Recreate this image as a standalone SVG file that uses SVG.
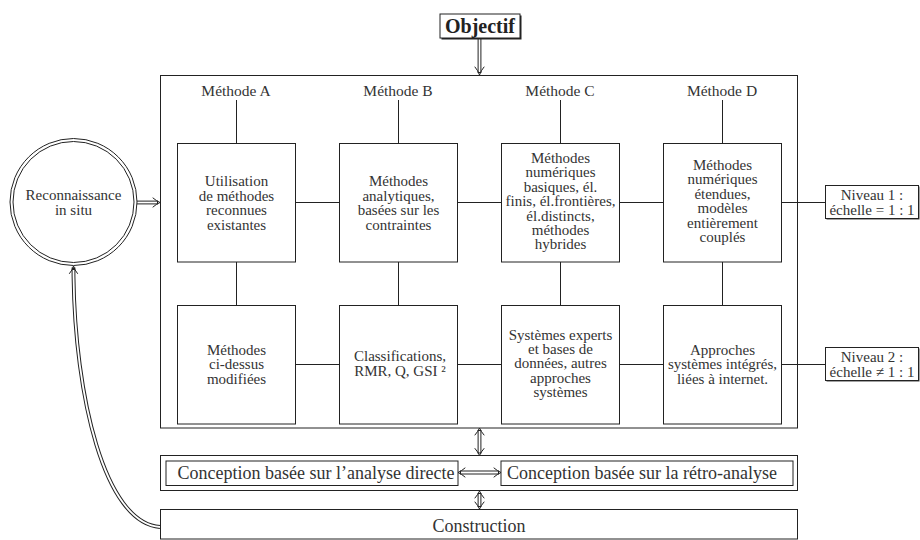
<svg xmlns="http://www.w3.org/2000/svg" width="920" height="540" viewBox="0 0 920 540">
<style>
  .box { fill: #fff; stroke: #222; stroke-width: 1; }
  .frame { fill: none; stroke: #222; stroke-width: 1; }
  .ln { fill: none; stroke: #222; stroke-width: 1; }
  .dbl { fill: none; stroke: #222; stroke-width: 3.8; }
  .dblin { fill: none; stroke: #fff; stroke-width: 1.8; }
  .head { fill: none; stroke: #222; stroke-width: 1; stroke-linecap: round; stroke-linejoin: round; }
  .t { font-family: "Liberation Serif", "DejaVu Serif", serif; font-size: 15px; fill: #333; text-anchor: middle; }
  .lbl { font-family: "Liberation Serif", "DejaVu Serif", serif; font-size: 15.5px; fill: #333; text-anchor: middle; }
  .big { font-family: "Liberation Serif", "DejaVu Serif", serif; font-size: 18px; fill: #333; text-anchor: middle; }
  .bold { font-family: "Liberation Serif", "DejaVu Serif", serif; font-size: 20px; font-weight: bold; fill: #222; text-anchor: middle; }
</style>
<rect width="920" height="540" fill="#fff"/>

<g id="main-frame">
  <rect class="frame" x="160.5" y="75.5" width="637" height="352.5"/>
  <text class="lbl" x="236" y="95.5">Méthode A</text>
  <text class="lbl" x="398" y="95.5">Méthode B</text>
  <text class="lbl" x="560" y="95.5">Méthode C</text>
  <text class="lbl" x="722" y="95.5">Méthode D</text>
</g>

<g id="conception-frame">
  <rect class="frame" x="160.5" y="455.5" width="637" height="35"/>
</g>

<g id="connectors">
  <path class="ln" d="M236.5,100 V143 M398.5,100 V143 M560.5,100 V143 M722.5,100 V143"/>
  <path class="ln" d="M236.5,262 V305 M398.5,262 V305 M560.5,262 V305 M722.5,262 V305"/>
  <path class="ln" d="M295,202.5 H339 M457,202.5 H501 M619,202.5 H663 M781,202.5 H825"/>
  <path class="ln" d="M295,364.5 H339 M457,364.5 H501 M619,364.5 H663 M781,364.5 H825"/>

  <!-- Objectif -> main frame -->
  <path class="dbl" d="M479.5,38 V73"/>
  <path class="dblin" d="M479.5,38 V72"/>
  <path class="head" d="M475,67 Q478,70.5 479.5,75 Q481,70.5 484,67"/>

  <!-- Reconnaissance -> main frame -->
  <path class="dbl" d="M137,202.5 H158"/>
  <path class="dblin" d="M137,202.5 H157"/>
  <path class="head" d="M153,198 Q156.5,201 160,202.5 Q156.5,204 153,207"/>

  <!-- main frame <-> conception -->
  <path class="dbl" d="M479.5,430 V453.5"/>
  <path class="dblin" d="M479.5,431 V452.5"/>
  <path class="head" d="M475,435 Q478,431.5 479.5,428 Q481,431.5 484,435"/>
  <path class="head" d="M475,448.5 Q478,452 479.5,455.5 Q481,452 484,448.5"/>

  <!-- conception <-> construction -->
  <path class="dbl" d="M479.5,493 V507"/>
  <path class="dblin" d="M479.5,494 V506"/>
  <path class="head" d="M475,498 Q478,494.5 479.5,491 Q481,494.5 484,498"/>
  <path class="head" d="M475,502 Q478,505.5 479.5,509 Q481,505.5 484,502"/>

  <!-- direct <-> retro -->
  <path class="dbl" d="M460,472.5 H499"/>
  <path class="dblin" d="M461,472.5 H498"/>
  <path class="head" d="M465,468 Q461.5,471 458,472.5 Q461.5,474 465,477"/>
  <path class="head" d="M494,468 Q497.5,471 501,472.5 Q497.5,474 494,477"/>

  <!-- Construction -> Reconnaissance (curved) -->
  <path class="dbl" d="M160,527 C104,523 75,395 73.5,276 L73.5,267.5"/>
  <path class="dblin" d="M160,527 C104,523 75,395 73.5,276 L73.5,270"/>
  <path class="head" d="M69.5,273.5 Q72.5,270 73.5,266 Q74.5,270 77.5,273.5"/>
</g>

<g id="objectif">
  <rect x="441.5" y="15.5" width="80" height="24" fill="#222"/>
  <rect class="box" x="440" y="14" width="80" height="24"/>
  <text class="bold" x="480" y="33">Objectif</text>
</g>

<g id="reconnaissance">
  <circle cx="73.5" cy="202" r="63.5" fill="#fff" stroke="#222" stroke-width="1"/>
  <circle cx="73.5" cy="202" r="60.5" fill="none" stroke="#222" stroke-width="1"/>
  <text class="t" x="73.5" y="200">Reconnaissance</text>
  <text class="t" x="73.5" y="215">in situ</text>
</g>

<g id="boxA1">
  <rect class="box" x="177.5" y="143.5" width="118" height="118.5"/>
  <text class="t" x="236.5" y="186"><tspan x="236.5">Utilisation</tspan><tspan x="236.5" dy="14.5">de méthodes</tspan><tspan x="236.5" dy="14.5">reconnues</tspan><tspan x="236.5" dy="14.5">existantes</tspan></text>
</g>
<g id="boxB1">
  <rect class="box" x="339.5" y="143.5" width="118" height="118.5"/>
  <text class="t" x="398.5" y="186"><tspan x="398.5">Méthodes</tspan><tspan x="398.5" dy="14.5">analytiques,</tspan><tspan x="398.5" dy="14.5">basées sur les</tspan><tspan x="398.5" dy="14.5">contraintes</tspan></text>
</g>
<g id="boxC1">
  <rect class="box" x="501.5" y="143.5" width="118" height="118.5"/>
  <text class="t" x="560.5" y="163"><tspan x="560.5">Méthodes</tspan><tspan x="560.5" dy="14.4">numériques</tspan><tspan x="560.5" dy="14.4">basiques, él.</tspan><tspan x="560.5" dy="14.4">finis, él.frontières,</tspan><tspan x="560.5" dy="14.4">él.distincts,</tspan><tspan x="560.5" dy="14.4">méthodes</tspan><tspan x="560.5" dy="14.4">hybrides</tspan></text>
</g>
<g id="boxD1">
  <rect class="box" x="663.5" y="143.5" width="118" height="118.5"/>
  <text class="t" x="722.5" y="169.5"><tspan x="722.5">Méthodes</tspan><tspan x="722.5" dy="14.5">numériques</tspan><tspan x="722.5" dy="14.5">étendues,</tspan><tspan x="722.5" dy="14.5">modèles</tspan><tspan x="722.5" dy="14.5">entièrement</tspan><tspan x="722.5" dy="14.5">couplés</tspan></text>
</g>

<g id="boxA2">
  <rect class="box" x="177.5" y="305.5" width="118" height="118.5"/>
  <text class="t" x="236.5" y="355"><tspan x="236.5">Méthodes</tspan><tspan x="236.5" dy="14.3">ci-dessus</tspan><tspan x="236.5" dy="14.3">modifiées</tspan></text>
</g>
<g id="boxB2">
  <rect class="box" x="339.5" y="305.5" width="118" height="118.5"/>
  <text class="t" x="400" y="360.5"><tspan x="400">Classifications,</tspan><tspan x="400" dy="15">RMR, Q, GSI ²</tspan></text>
</g>
<g id="boxC2">
  <rect class="box" x="501.5" y="305.5" width="118" height="118.5"/>
  <text class="t" x="560.5" y="339.5"><tspan x="560.5">Systèmes experts</tspan><tspan x="560.5" dy="14.4">et bases de</tspan><tspan x="560.5" dy="14.4">données, autres</tspan><tspan x="560.5" dy="14.4">approches</tspan><tspan x="560.5" dy="14.4">systèmes</tspan></text>
</g>
<g id="boxD2">
  <rect class="box" x="663.5" y="305.5" width="118" height="118.5"/>
  <text class="t" x="722.5" y="355"><tspan x="722.5">Approches</tspan><tspan x="722.5" dy="14.3">systèmes intégrés,</tspan><tspan x="722.5" dy="14.3">liées à internet.</tspan></text>
</g>

<g id="niveau1">
  <rect x="826.5" y="186.5" width="93" height="33" fill="#444"/>
  <rect class="box" x="825.5" y="185.5" width="93" height="33"/>
  <text class="t" x="872" y="200"><tspan x="872">Niveau 1 :</tspan><tspan x="872" dy="14.5">échelle = 1 : 1</tspan></text>
</g>
<g id="niveau2">
  <rect x="826.5" y="348.5" width="93" height="33" fill="#444"/>
  <rect class="box" x="825.5" y="347.5" width="93" height="33"/>
  <text class="t" x="872" y="362"><tspan x="872">Niveau 2 :</tspan><tspan x="872" dy="14.5">échelle ≠ 1 : 1</tspan></text>
</g>

<g id="conception-directe">
  <rect class="box" x="166" y="461" width="292" height="24.5"/>
  <text class="big" x="316" y="478.5">Conception basée sur l’analyse directe</text>
</g>
<g id="conception-retro">
  <rect class="box" x="501" y="461" width="292" height="24.5"/>
  <text class="big" x="642" y="478.5">Conception basée sur la rétro-analyse</text>
</g>

<g id="construction">
  <rect class="box" x="160.5" y="509.5" width="637" height="29.5"/>
  <text class="big" x="479" y="532">Construction</text>
</g>
</svg>
